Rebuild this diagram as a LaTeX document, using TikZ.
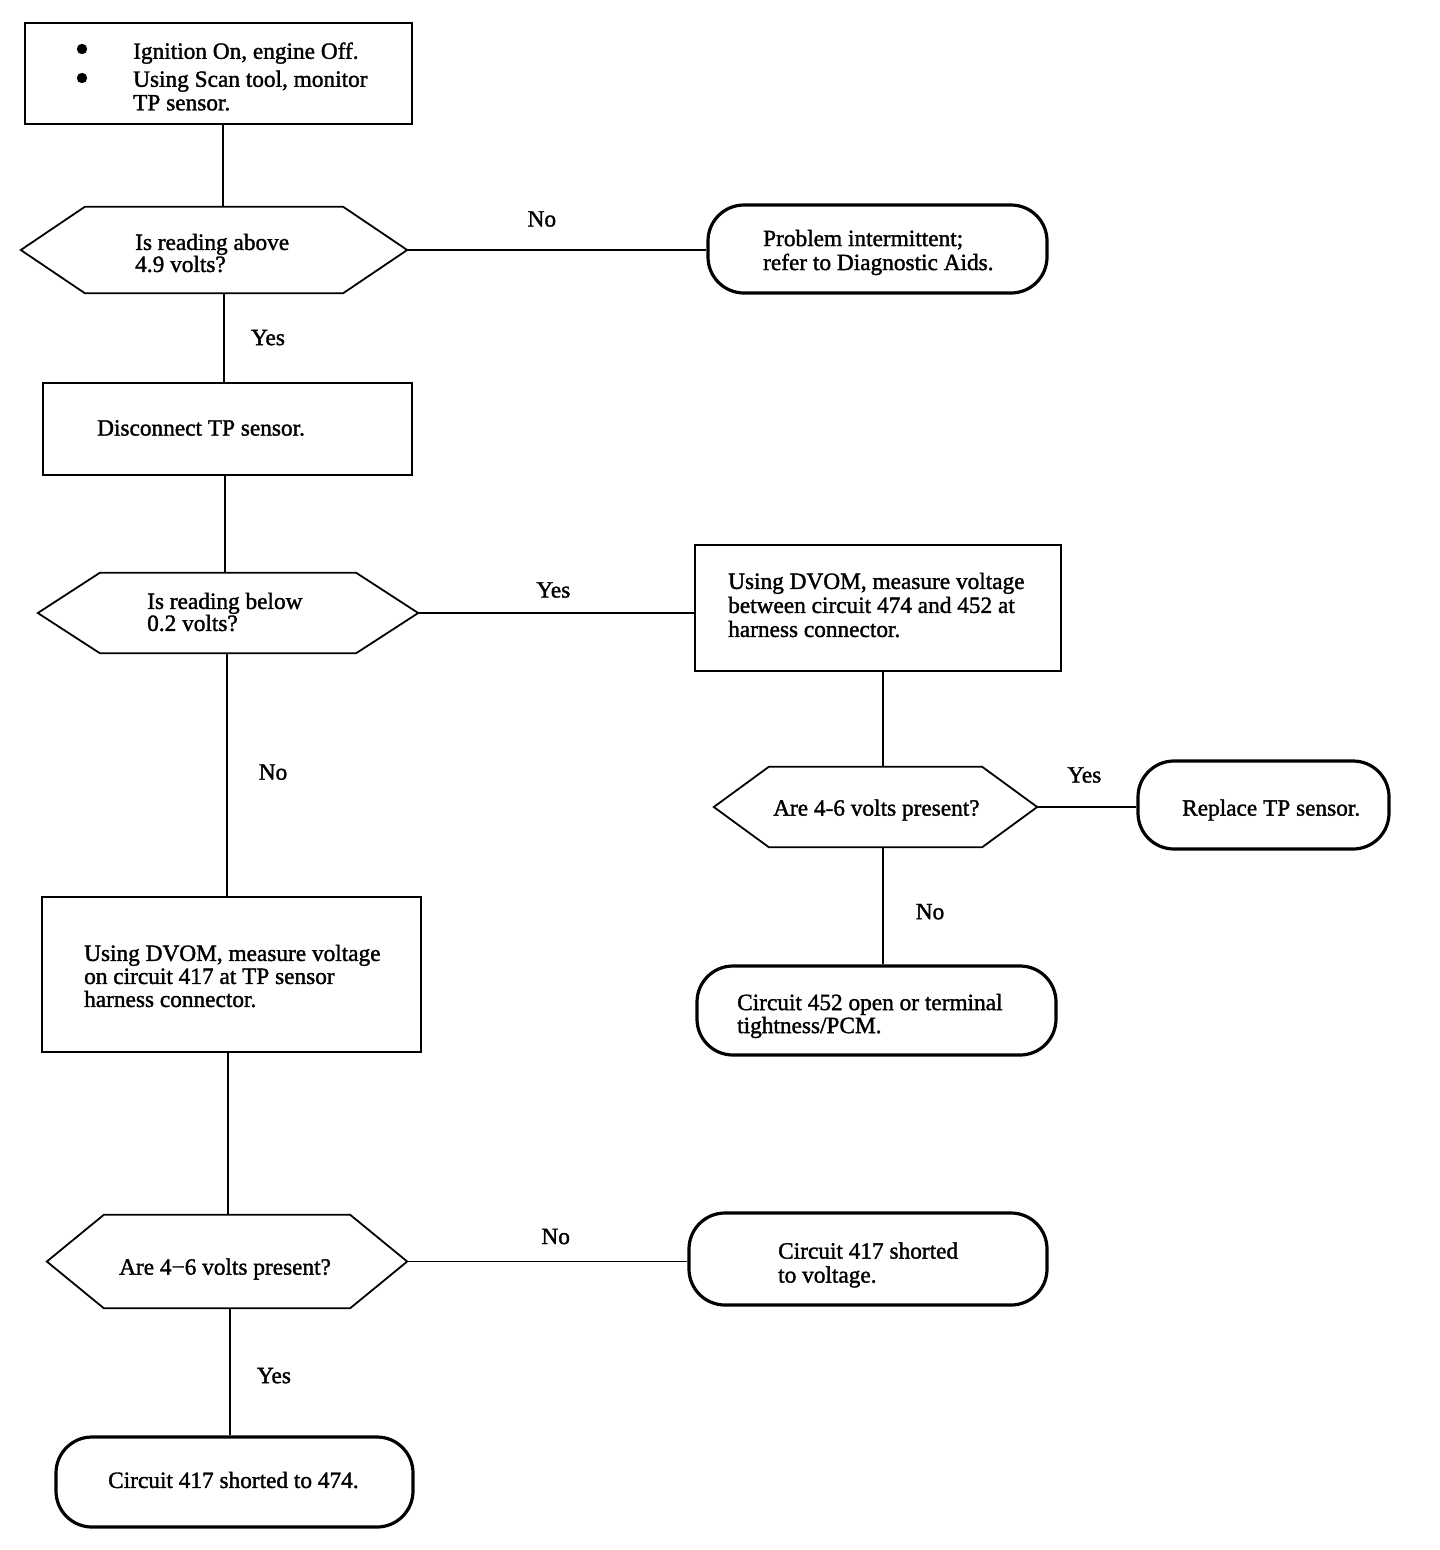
\documentclass[tikz,border=0pt]{standalone}
\usepackage{fontspec}
\setmainfont{Liberation Serif}[UprightFeatures={FakeBold=1.5}]
\begin{document}
\begin{tikzpicture}[x=1pt,y=-1pt,
  every node/.style={font=\fontsize{23.3}{23.5}\selectfont},
  boxnode/.style={draw, line width=2pt, rectangle, inner sep=0pt},
  hexnode/.style={rectangle, draw=none, inner sep=0pt},
  ovalnode/.style={draw, line width=3.2pt, rectangle, rounded corners=36pt, inner sep=0pt},
  hexline/.style={line width=1.8pt, line join=miter},
  txt/.style={anchor=west, align=left, inner sep=0pt},
  hextxt/.style={txt, font=\fontsize{23.3}{22}\selectfont},
  widetxt/.style={txt, font=\fontsize{23.3}{24}\selectfont},
  conn/.style={line width=1.8pt},
  lbl/.style={inner sep=0pt}]
\useasboundingbox (0,0) rectangle (1440,1550);
\fill[white] (0,0) rectangle (1440,1550);

% shapes
\node[boxnode, minimum width=387, minimum height=101] (b1) at (218.5,73.5) {};
\node[hexnode, minimum width=386, minimum height=86] (h1) at (214,250) {};
\node[ovalnode, minimum width=339, minimum height=88] (o1) at (877.5,249) {};
\node[boxnode, minimum width=369, minimum height=92] (b2) at (227.5,429) {};
\node[hexnode, minimum width=380, minimum height=80] (h2) at (228,613) {};
\node[boxnode, minimum width=366, minimum height=126] (b3) at (878,608) {};
\node[hexnode, minimum width=323, minimum height=80] (h3) at (875.5,807) {};
\node[ovalnode, minimum width=251, minimum height=88] (o2) at (1263.5,805) {};
\node[ovalnode, minimum width=359, minimum height=89] (o3) at (876.5,1010.5) {};
\node[boxnode, minimum width=379, minimum height=155] (b4) at (231.5,974.5) {};
\node[hexnode, minimum width=360, minimum height=93] (h4) at (227,1261.5) {};
\node[ovalnode, minimum width=358, minimum height=92] (o4) at (868,1259) {};
\node[ovalnode, minimum width=357, minimum height=90] (o5) at (234.5,1482) {};

% hexagon outlines
\foreach \n/\d in {h1/64,h2/62,h3/55,h4/57}{
  \draw[hexline] (\n.west) -- ([xshift=\d]\n.north west) -- ([xshift=-\d]\n.north east)
    -- (\n.east) -- ([xshift=-\d]\n.south east) -- ([xshift=\d]\n.south west) -- cycle;
}

% bullets of the first box
\fill ([shift={(58,27)}]b1.north west) circle[radius=5.2pt];
\fill ([shift={(58,56)}]b1.north west) circle[radius=5.2pt];

% texts
\node[txt] (t1) at (133,76.5) {Ignition On, engine Off.\\[4.5pt]Using Scan tool, monitor\\TP sensor.};
\node[hextxt] (t2) at (135,253) {Is reading above\\4.9 volts?};
\node[widetxt] (t3) at (763,252.5) {Problem intermittent;\\refer to Diagnostic Aids.};
\node[txt] (t4) at (97,428) {Disconnect TP sensor.};
\node[hextxt] (t5) at (147,612) {Is reading below\\0.2 volts?};
\node[widetxt] (t6) at (728,605) {Using DVOM, measure voltage\\between circuit 474 and 452 at\\harness connector.};
\node[txt] (t7) at (773,810) {Are 4-6 volts present?};
\node[txt] (t8) at (1182,810) {Replace TP sensor.};
\node[txt, font=\fontsize{23.3}{23}\selectfont] (t9) at (737,1016) {Circuit 452 open or terminal\\tightness/PCM.};
\node[txt, font=\fontsize{23.3}{23}\selectfont] (t10) at (84,976) {Using DVOM, measure voltage\\on circuit 417 at TP sensor\\harness connector.};
\node[txt] (t11) at (119,1269) {Are 4−6 volts present?};
\node[widetxt] (t12) at (778,1265) {Circuit 417 shorted\\to voltage.};
\node[txt] (t13) at (108,1480) {Circuit 417 shorted to 474.};

% vertical connectors
\draw[conn] ([xshift=4.5]b1.south) coordinate (c1) -- (c1 |- h1.north);
\draw[conn] ([xshift=10]h1.south) coordinate (c2) -- node[lbl, pos=.5, xshift=44] (l2) {Yes} (c2 |- b2.north);
\draw[conn] ([xshift=-2.5]b2.south) coordinate (c3) -- (c3 |- h2.north);
\draw[conn] ([xshift=-1]h2.south) coordinate (c4) -- node[lbl, pos=.49, xshift=46] (l4) {No} (c4 |- b4.north);
\draw[conn] ([xshift=-3.5]b4.south) coordinate (c5) -- (c5 |- h4.north);
\draw[conn] ([xshift=3]h4.south) coordinate (c6) -- node[lbl, pos=.53, xshift=44] (l6) {Yes} (c6 |- o5.north);
\draw[conn] ([xshift=5]b3.south) coordinate (c7) -- (c7 |- h3.north);
\draw[conn] ([xshift=7.5]h3.south) coordinate (c8) -- node[lbl, pos=.55, xshift=47] (l8) {No} (c8 |- o3.north);

% horizontal connectors
\draw[conn] (h1.east) -- node[lbl, pos=.45, yshift=31] (l1) {No} (h1.east -| o1.west);
\draw[conn] (h2.east) -- node[lbl, pos=.49, yshift=23] (l3) {Yes} (h2.east -| b3.west);
\draw[conn] (h3.east) -- node[lbl, pos=.475, yshift=32] (l7) {Yes} (h3.east -| o2.west);
\draw[conn] (h4.east) -- node[lbl, pos=.53, yshift=25] (l5) {No} (h4.east -| o4.west);
\end{tikzpicture}
\end{document}
